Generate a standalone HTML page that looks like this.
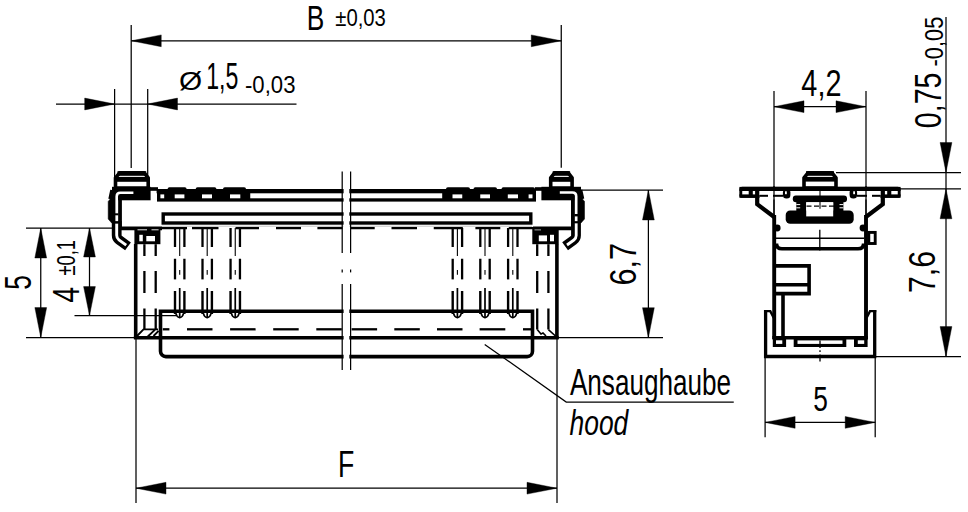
<!DOCTYPE html>
<html><head><meta charset="utf-8"><title>Ansaughaube / hood</title>
<style>
html,body{margin:0;padding:0;background:#fff;overflow:hidden;}
svg{display:block;}
text{font-family:"Liberation Sans",sans-serif;fill:#000;stroke:none;}
</style></head>
<body>
<svg width="968" height="512" viewBox="0 0 968 512" stroke="#000" fill="none">
<rect x="0" y="0" width="968" height="512" fill="#fff" stroke="none"/>
<line x1="131.20" y1="25.00" x2="131.20" y2="168.00" stroke-width="1.25" />
<line x1="561.25" y1="25.00" x2="561.25" y2="167.80" stroke-width="1.25" />
<line x1="131.25" y1="40.80" x2="561.25" y2="40.80" stroke-width="1.25" />
<polygon points="131.25,40.80 161.25,46.70 161.25,34.90" fill="#000" stroke="#000" stroke-width="0.4"/>
<polygon points="561.25,40.80 531.25,34.90 531.25,46.70" fill="#000" stroke="#000" stroke-width="0.4"/>
<line x1="114.60" y1="89.00" x2="114.60" y2="178.00" stroke-width="1.25" />
<line x1="147.70" y1="89.00" x2="147.70" y2="178.00" stroke-width="1.25" />
<line x1="56.00" y1="104.00" x2="296.50" y2="104.00" stroke-width="1.25" />
<polygon points="114.70,104.00 84.70,98.10 84.70,109.90" fill="#000" stroke="#000" stroke-width="0.4"/>
<polygon points="147.50,104.00 177.50,109.90 177.50,98.10" fill="#000" stroke="#000" stroke-width="0.4"/>
<line x1="26.00" y1="228.00" x2="120.00" y2="228.00" stroke-width="1.25" />
<line x1="26.00" y1="337.60" x2="135.00" y2="337.60" stroke-width="1.25" />
<line x1="40.75" y1="228.00" x2="40.75" y2="337.60" stroke-width="1.25" />
<polygon points="40.75,228.00 34.85,258.00 46.65,258.00" fill="#000" stroke="#000" stroke-width="0.4"/>
<polygon points="40.75,337.60 46.65,307.60 34.85,307.60" fill="#000" stroke="#000" stroke-width="0.4"/>
<line x1="74.50" y1="315.60" x2="176.00" y2="315.60" stroke-width="1.25" />
<line x1="89.50" y1="228.00" x2="89.50" y2="315.60" stroke-width="1.25" />
<polygon points="89.50,228.00 83.60,257.00 95.40,257.00" fill="#000" stroke="#000" stroke-width="0.4"/>
<polygon points="89.50,315.60 95.40,286.60 83.60,286.60" fill="#000" stroke="#000" stroke-width="0.4"/>
<line x1="136.00" y1="339.00" x2="136.00" y2="503.00" stroke-width="1.25" />
<line x1="557.00" y1="339.00" x2="557.00" y2="503.00" stroke-width="1.25" />
<line x1="136.00" y1="488.20" x2="557.00" y2="488.20" stroke-width="1.25" />
<polygon points="136.00,488.20 166.00,494.10 166.00,482.30" fill="#000" stroke="#000" stroke-width="0.4"/>
<polygon points="557.00,488.20 527.00,482.30 527.00,494.10" fill="#000" stroke="#000" stroke-width="0.4"/>
<line x1="581.00" y1="190.00" x2="663.00" y2="190.00" stroke-width="1.25" />
<line x1="558.00" y1="337.70" x2="663.00" y2="337.70" stroke-width="1.25" />
<line x1="648.40" y1="190.00" x2="648.40" y2="337.70" stroke-width="1.25" />
<polygon points="648.40,190.00 642.50,220.00 654.30,220.00" fill="#000" stroke="#000" stroke-width="0.4"/>
<polygon points="648.40,337.70 654.30,307.70 642.50,307.70" fill="#000" stroke="#000" stroke-width="0.4"/>
<path d="M484.7,344.4 L566.25,402 H733.75" stroke-width="1.25" fill="none" />
<line x1="774.00" y1="91.00" x2="774.00" y2="217.00" stroke-width="1.25" />
<line x1="866.00" y1="91.00" x2="866.00" y2="217.00" stroke-width="1.25" />
<line x1="774.00" y1="106.70" x2="866.00" y2="106.70" stroke-width="1.25" />
<polygon points="774.00,106.70 804.00,112.60 804.00,100.80" fill="#000" stroke="#000" stroke-width="0.4"/>
<polygon points="866.00,106.70 836.00,100.80 836.00,112.60" fill="#000" stroke="#000" stroke-width="0.4"/>
<line x1="946.00" y1="17.00" x2="946.00" y2="356.60" stroke-width="1.25" />
<line x1="836.00" y1="172.50" x2="961.00" y2="172.50" stroke-width="1.25" />
<line x1="898.00" y1="188.75" x2="961.00" y2="188.75" stroke-width="1.25" />
<line x1="876.00" y1="356.60" x2="961.00" y2="356.60" stroke-width="1.25" />
<polygon points="946.00,172.50 951.90,142.50 940.10,142.50" fill="#000" stroke="#000" stroke-width="0.4"/>
<polygon points="946.00,188.75 940.10,218.75 951.90,218.75" fill="#000" stroke="#000" stroke-width="0.4"/>
<polygon points="946.00,356.60 951.90,326.60 940.10,326.60" fill="#000" stroke="#000" stroke-width="0.4"/>
<line x1="765.10" y1="357.00" x2="765.10" y2="437.30" stroke-width="1.25" />
<line x1="875.20" y1="357.00" x2="875.20" y2="437.30" stroke-width="1.25" />
<line x1="765.10" y1="422.40" x2="875.20" y2="422.40" stroke-width="1.25" />
<polygon points="765.10,422.40 795.10,428.30 795.10,416.50" fill="#000" stroke="#000" stroke-width="0.4"/>
<polygon points="875.20,422.40 845.20,416.50 845.20,428.30" fill="#000" stroke="#000" stroke-width="0.4"/>
<text transform="translate(306.83,29.50) scale(0.7378,1)" font-size="35.64" stroke="#fff" stroke-width="0.25">B</text>
<text transform="translate(335.34,26.00) scale(0.8189,1)" font-size="24.73">±0,03</text>
<text transform="translate(178.88,89.80) scale(1.1636,1)" font-size="25.60" stroke="#000" stroke-width="0.7">Ø</text>
<text transform="translate(206.26,89.00) scale(0.6363,1)" font-size="36.36" stroke="#fff" stroke-width="0.25">1,5</text>
<text transform="translate(245.00,93.00) scale(0.8956,1)" font-size="24.73">-0,03</text>
<text transform="translate(801.35,96.00) scale(0.7932,1)" font-size="36.36" stroke="#fff" stroke-width="0.25">4,2</text>
<text transform="translate(940.50,128.14) rotate(-90) scale(0.7698,1)" font-size="37.09" stroke="#fff" stroke-width="0.25">0,75</text>
<text transform="translate(943.00,66.49) rotate(-90) scale(0.8601,1)" font-size="25.45">-0,05</text>
<text transform="translate(30.50,289.80) rotate(-90) scale(0.6959,1)" font-size="37.82" stroke="#fff" stroke-width="0.25">5</text>
<text transform="translate(78.75,302.65) rotate(-90) scale(0.7666,1)" font-size="37.45" stroke="#fff" stroke-width="0.25">4</text>
<text transform="translate(75.00,275.59) rotate(-90) scale(0.6991,1)" font-size="26.18">±0,1</text>
<text transform="translate(636.00,285.53) rotate(-90) scale(0.8421,1)" font-size="36.36" stroke="#fff" stroke-width="0.25">6,7</text>
<text transform="translate(934.75,293.09) rotate(-90) scale(0.8161,1)" font-size="37.09" stroke="#fff" stroke-width="0.25">7,6</text>
<text transform="translate(338.10,476.70) scale(0.7134,1)" font-size="37.38" stroke="#fff" stroke-width="0.25">F</text>
<text transform="translate(813.15,410.60) scale(0.7325,1)" font-size="35.93" stroke="#fff" stroke-width="0.25">5</text>
<text transform="translate(569.93,394.50) scale(0.7040,1)" font-size="37.09" stroke="#fff" stroke-width="0.25">Ansaughaube</text>
<text transform="translate(569.54,434.50) scale(0.7664,1)" font-size="34.48" font-style="italic" stroke="#fff" stroke-width="0.25">hood</text>
<rect x="156.60" y="189.00" width="379.40" height="4.30" fill="#000" stroke="none" />
<rect x="149.00" y="187.20" width="9.00" height="3.60" fill="#000" stroke="none" />
<rect x="535.00" y="187.20" width="8.00" height="3.60" fill="#000" stroke="none" />
<rect x="157.00" y="198.30" width="379.00" height="3.30" fill="#000" stroke="none" />
<rect x="157.00" y="191.00" width="93.25" height="8.00" fill="#000" stroke="none" />
<rect x="442.20" y="191.00" width="93.80" height="8.00" fill="#000" stroke="none" />
<rect x="160.40" y="194.40" width="3.80" height="3.90" fill="#fff" stroke="none" />
<rect x="174.70" y="194.40" width="9.70" height="3.90" fill="#fff" stroke="none" />
<rect x="202.00" y="194.40" width="10.00" height="3.90" fill="#fff" stroke="none" />
<rect x="230.00" y="194.40" width="10.30" height="3.90" fill="#fff" stroke="none" />
<rect x="452.50" y="194.40" width="9.75" height="3.90" fill="#fff" stroke="none" />
<rect x="480.25" y="194.40" width="9.75" height="3.90" fill="#fff" stroke="none" />
<rect x="507.80" y="194.40" width="10.20" height="3.90" fill="#fff" stroke="none" />
<rect x="528.60" y="194.40" width="3.90" height="3.90" fill="#fff" stroke="none" />
<rect x="167.6" y="187.2" width="19.0" height="4" rx="1.8" fill="#000" stroke="none"/>
<rect x="195.7" y="187.2" width="20.700000000000017" height="4" rx="1.8" fill="#000" stroke="none"/>
<rect x="223" y="187.2" width="23" height="4" rx="1.8" fill="#000" stroke="none"/>
<rect x="446" y="187.2" width="24" height="4" rx="1.8" fill="#000" stroke="none"/>
<rect x="473.5" y="187.2" width="23.5" height="4" rx="1.8" fill="#000" stroke="none"/>
<rect x="501.5" y="187.2" width="33.5" height="4" rx="1.8" fill="#000" stroke="none"/>
<rect x="163.2" y="214" width="367.6" height="9" fill="#fff" stroke-width="3.4"/>
<line x1="162.00" y1="226.20" x2="532.00" y2="226.20" stroke-width="0.7" stroke="#aaa"/>
<line x1="162.00" y1="228.10" x2="187.00" y2="228.10" stroke-width="2.3" />
<line x1="192.00" y1="228.10" x2="218.50" y2="228.10" stroke-width="2.3" />
<line x1="235.50" y1="228.10" x2="259.00" y2="228.10" stroke-width="2.3" />
<line x1="276.00" y1="228.10" x2="301.00" y2="228.10" stroke-width="2.3" />
<line x1="317.40" y1="228.10" x2="342.50" y2="228.10" stroke-width="2.3" />
<line x1="351.00" y1="228.10" x2="374.70" y2="228.10" stroke-width="2.3" />
<line x1="391.50" y1="228.10" x2="417.00" y2="228.10" stroke-width="2.3" />
<line x1="433.75" y1="228.10" x2="462.80" y2="228.10" stroke-width="2.3" />
<line x1="475.40" y1="228.10" x2="500.30" y2="228.10" stroke-width="2.3" />
<line x1="508.75" y1="228.10" x2="533.00" y2="228.10" stroke-width="2.3" />
<line x1="117.60" y1="228.40" x2="162.00" y2="228.40" stroke-width="3.6" />
<line x1="533.00" y1="228.40" x2="574.50" y2="228.40" stroke-width="3.6" />
<line x1="175.00" y1="228.00" x2="175.00" y2="247.00" stroke-width="2.3" />
<line x1="175.00" y1="258.75" x2="175.00" y2="279.40" stroke-width="2.3" />
<line x1="175.00" y1="291.00" x2="175.00" y2="314.00" stroke-width="2.4" />
<line x1="184.40" y1="228.00" x2="184.40" y2="247.00" stroke-width="2.3" />
<line x1="184.40" y1="258.75" x2="184.40" y2="279.40" stroke-width="2.3" />
<line x1="184.40" y1="291.00" x2="184.40" y2="314.00" stroke-width="2.4" />
<line x1="179.70" y1="228.00" x2="179.70" y2="256.00" stroke-width="1.1" />
<line x1="179.70" y1="270.00" x2="179.70" y2="274.70" stroke-width="1.1" />
<line x1="179.70" y1="288.00" x2="179.70" y2="317.00" stroke-width="1.7" />
<path d="M175.79999999999998,313.2 Q176.5,317 179.7,317.8 Q182.89999999999998,317 183.6,313.2" stroke-width="1.6" fill="none" />
<line x1="202.50" y1="228.00" x2="202.50" y2="247.00" stroke-width="2.3" />
<line x1="202.50" y1="258.75" x2="202.50" y2="279.40" stroke-width="2.3" />
<line x1="202.50" y1="291.00" x2="202.50" y2="314.00" stroke-width="2.4" />
<line x1="211.90" y1="228.00" x2="211.90" y2="247.00" stroke-width="2.3" />
<line x1="211.90" y1="258.75" x2="211.90" y2="279.40" stroke-width="2.3" />
<line x1="211.90" y1="291.00" x2="211.90" y2="314.00" stroke-width="2.4" />
<line x1="207.20" y1="228.00" x2="207.20" y2="256.00" stroke-width="1.1" />
<line x1="207.20" y1="270.00" x2="207.20" y2="274.70" stroke-width="1.1" />
<line x1="207.20" y1="288.00" x2="207.20" y2="317.00" stroke-width="1.7" />
<path d="M203.29999999999998,313.2 Q204.0,317 207.2,317.8 Q210.39999999999998,317 211.1,313.2" stroke-width="1.6" fill="none" />
<line x1="230.55" y1="228.00" x2="230.55" y2="247.00" stroke-width="2.3" />
<line x1="230.55" y1="258.75" x2="230.55" y2="279.40" stroke-width="2.3" />
<line x1="230.55" y1="291.00" x2="230.55" y2="314.00" stroke-width="2.4" />
<line x1="239.95" y1="228.00" x2="239.95" y2="247.00" stroke-width="2.3" />
<line x1="239.95" y1="258.75" x2="239.95" y2="279.40" stroke-width="2.3" />
<line x1="239.95" y1="291.00" x2="239.95" y2="314.00" stroke-width="2.4" />
<line x1="235.25" y1="228.00" x2="235.25" y2="256.00" stroke-width="1.1" />
<line x1="235.25" y1="270.00" x2="235.25" y2="274.70" stroke-width="1.1" />
<line x1="235.25" y1="288.00" x2="235.25" y2="317.00" stroke-width="1.7" />
<path d="M231.35,313.2 Q232.05,317 235.25,317.8 Q238.45,317 239.15,313.2" stroke-width="1.6" fill="none" />
<line x1="452.70" y1="228.00" x2="452.70" y2="247.00" stroke-width="2.3" />
<line x1="452.70" y1="258.75" x2="452.70" y2="279.40" stroke-width="2.3" />
<line x1="452.70" y1="291.00" x2="452.70" y2="314.00" stroke-width="2.4" />
<line x1="462.10" y1="228.00" x2="462.10" y2="247.00" stroke-width="2.3" />
<line x1="462.10" y1="258.75" x2="462.10" y2="279.40" stroke-width="2.3" />
<line x1="462.10" y1="291.00" x2="462.10" y2="314.00" stroke-width="2.4" />
<line x1="457.40" y1="228.00" x2="457.40" y2="256.00" stroke-width="1.1" />
<line x1="457.40" y1="270.00" x2="457.40" y2="274.70" stroke-width="1.1" />
<line x1="457.40" y1="288.00" x2="457.40" y2="317.00" stroke-width="1.7" />
<path d="M453.5,313.2 Q454.2,317 457.4,317.8 Q460.59999999999997,317 461.29999999999995,313.2" stroke-width="1.6" fill="none" />
<line x1="480.30" y1="228.00" x2="480.30" y2="247.00" stroke-width="2.3" />
<line x1="480.30" y1="258.75" x2="480.30" y2="279.40" stroke-width="2.3" />
<line x1="480.30" y1="291.00" x2="480.30" y2="314.00" stroke-width="2.4" />
<line x1="489.70" y1="228.00" x2="489.70" y2="247.00" stroke-width="2.3" />
<line x1="489.70" y1="258.75" x2="489.70" y2="279.40" stroke-width="2.3" />
<line x1="489.70" y1="291.00" x2="489.70" y2="314.00" stroke-width="2.4" />
<line x1="485.00" y1="228.00" x2="485.00" y2="256.00" stroke-width="1.1" />
<line x1="485.00" y1="270.00" x2="485.00" y2="274.70" stroke-width="1.1" />
<line x1="485.00" y1="288.00" x2="485.00" y2="317.00" stroke-width="1.7" />
<path d="M481.1,313.2 Q481.8,317 485,317.8 Q488.2,317 488.9,313.2" stroke-width="1.6" fill="none" />
<line x1="508.10" y1="228.00" x2="508.10" y2="247.00" stroke-width="2.3" />
<line x1="508.10" y1="258.75" x2="508.10" y2="279.40" stroke-width="2.3" />
<line x1="508.10" y1="291.00" x2="508.10" y2="314.00" stroke-width="2.4" />
<line x1="517.50" y1="228.00" x2="517.50" y2="247.00" stroke-width="2.3" />
<line x1="517.50" y1="258.75" x2="517.50" y2="279.40" stroke-width="2.3" />
<line x1="517.50" y1="291.00" x2="517.50" y2="314.00" stroke-width="2.4" />
<line x1="512.80" y1="228.00" x2="512.80" y2="256.00" stroke-width="1.1" />
<line x1="512.80" y1="270.00" x2="512.80" y2="274.70" stroke-width="1.1" />
<line x1="512.80" y1="288.00" x2="512.80" y2="317.00" stroke-width="1.7" />
<path d="M508.9,313.2 Q509.59999999999997,317 512.8,317.8 Q516.0,317 516.6999999999999,313.2" stroke-width="1.6" fill="none" />
<rect x="112.00" y="186.80" width="38.60" height="13.50" fill="#000" stroke="none" />
<path d="M108.2,201.5 L111,198 H118 V223 H111.7 L108.2,219 Z" stroke-width="0.5" fill="#000" />
<path d="M110.1,199 L112,190 " stroke-width="3.6" fill="none" />
<path d="M115.5,188 V177.8 L119.6,172.8 H144.2 L148.2,177.8 V188 Z" stroke-width="3.6" fill="#fff" stroke-linejoin="round"/>
<rect x="117.50" y="171.20" width="28.70" height="4.60" fill="#000" stroke="none" />
<rect x="115.00" y="176.90" width="33.60" height="4.90" fill="#000" stroke="none" />
<rect x="118.20" y="199.00" width="3.70" height="30.00" fill="#000" stroke="none" />
<path d="M116.7,221 V235.3 Q116.7,238.2 118.9,239.8 L128,246.4" stroke-width="9.8" fill="none" />
<path d="M116.7,223.6 V235.3 Q116.7,238.2 118.9,239.8 L126.2,245.1" stroke-width="2.9" fill="none" stroke="#fff"/>
<path d="M116.7,221.2 V196.5 Q116.7,192.8 120.4,192.8 H133.4" stroke-width="2.6" fill="none" stroke="#fff"/>
<line x1="115.00" y1="214.30" x2="118.50" y2="214.30" stroke-width="2.0" />
<line x1="115.00" y1="222.40" x2="118.50" y2="222.40" stroke-width="1.8" />
<rect x="541.40" y="186.80" width="39.60" height="13.50" fill="#000" stroke="none" />
<path d="M584.5,201.5 L581.7,198 H575 V223 H581 L584.5,219 Z" stroke-width="0.5" fill="#000" />
<path d="M582.5,199 L580.5,190" stroke-width="3.6" fill="none" />
<path d="M550.7,188 V177.8 L554.6,172.8 H568.2 L572.1,177.8 V188 Z" stroke-width="3.6" fill="#fff" stroke-linejoin="round"/>
<rect x="552.70" y="171.20" width="17.40" height="4.60" fill="#000" stroke="none" />
<rect x="550.00" y="176.90" width="23.00" height="4.90" fill="#000" stroke="none" />
<rect x="571.00" y="199.00" width="3.90" height="30.00" fill="#000" stroke="none" />
<path d="M576,221 V235.6 Q576,238.4 573.7,240 L565.1,246.3" stroke-width="9.8" fill="none" />
<path d="M576.2,223.2 V235.6 Q576.2,238.4 573.9,240 L567,245" stroke-width="2.8" fill="none" stroke="#fff"/>
<path d="M559.8,192.5 H572.4 Q576.2,192.5 576.2,196.3 V221.4" stroke-width="2.6" fill="none" stroke="#fff"/>
<line x1="574.40" y1="215.20" x2="578.00" y2="215.20" stroke-width="2.4" />
<line x1="574.40" y1="222.20" x2="578.00" y2="222.20" stroke-width="1.8" />
<rect x="134.40" y="228.00" width="26.00" height="16.20" fill="#000" stroke="none" />
<rect x="139.30" y="234.80" width="3.50" height="6.50" fill="#fff" stroke="none" />
<rect x="146.30" y="236.00" width="8.70" height="5.30" fill="#fff" stroke="none" />
<line x1="137.50" y1="229.80" x2="147.00" y2="229.80" stroke-width="0.9" stroke="#fff"/>
<line x1="151.50" y1="229.80" x2="158.60" y2="229.80" stroke-width="0.9" stroke="#fff"/>
<rect x="532.30" y="228.00" width="26.40" height="16.20" fill="#000" stroke="none" />
<rect x="538.80" y="235.40" width="8.20" height="5.90" fill="#fff" stroke="none" />
<rect x="550.00" y="234.80" width="4.00" height="6.50" fill="#fff" stroke="none" />
<line x1="534.50" y1="229.90" x2="541.00" y2="229.90" stroke-width="0.9" stroke="#bbb"/>
<line x1="135.70" y1="244.00" x2="135.70" y2="339.00" stroke-width="3.6" />
<line x1="556.90" y1="244.00" x2="556.90" y2="339.00" stroke-width="3.6" />
<line x1="133.90" y1="337.70" x2="558.70" y2="337.70" stroke-width="3.6" />
<line x1="144.40" y1="244.20" x2="144.40" y2="256.00" stroke-width="2.3" />
<line x1="144.40" y1="271.00" x2="144.40" y2="293.00" stroke-width="2.3" />
<line x1="144.40" y1="308.50" x2="144.40" y2="329.50" stroke-width="2.3" />
<line x1="155.70" y1="244.20" x2="155.70" y2="256.00" stroke-width="2.3" />
<line x1="155.70" y1="271.00" x2="155.70" y2="293.00" stroke-width="2.3" />
<line x1="155.70" y1="308.50" x2="155.70" y2="329.50" stroke-width="2.3" />
<line x1="537.20" y1="244.20" x2="537.20" y2="256.00" stroke-width="2.3" />
<line x1="537.20" y1="271.00" x2="537.20" y2="293.00" stroke-width="2.3" />
<line x1="537.20" y1="308.50" x2="537.20" y2="329.50" stroke-width="2.3" />
<line x1="548.40" y1="244.20" x2="548.40" y2="256.00" stroke-width="2.3" />
<line x1="548.40" y1="271.00" x2="548.40" y2="293.00" stroke-width="2.3" />
<line x1="548.40" y1="308.50" x2="548.40" y2="329.50" stroke-width="2.3" />
<path d="M160.5,311.2 H532.5 V351.3 a5.3,5.3 0 0 1 -5.3,5.3 H165.8 a5.3,5.3 0 0 1 -5.3,-5.3 Z" stroke-width="3.6" fill="none" />
<line x1="162.80" y1="329.30" x2="169.40" y2="329.30" stroke-width="2.3" />
<line x1="187.00" y1="329.30" x2="212.50" y2="329.30" stroke-width="2.3" />
<line x1="230.10" y1="329.30" x2="255.60" y2="329.30" stroke-width="2.3" />
<line x1="273.20" y1="329.30" x2="298.70" y2="329.30" stroke-width="2.3" />
<line x1="316.30" y1="329.30" x2="341.80" y2="329.30" stroke-width="2.3" />
<line x1="351.60" y1="329.30" x2="377.10" y2="329.30" stroke-width="2.3" />
<line x1="394.30" y1="329.30" x2="419.80" y2="329.30" stroke-width="2.3" />
<line x1="437.00" y1="329.30" x2="462.50" y2="329.30" stroke-width="2.3" />
<line x1="479.60" y1="329.30" x2="505.30" y2="329.30" stroke-width="2.3" />
<line x1="523.00" y1="329.30" x2="532.00" y2="329.30" stroke-width="2.3" />
<path d="M137,336 L143.5,329.4 H158 M147.8,336.5 L155.4,329.4 M153.5,336 L158.6,330.8" stroke-width="1.9" fill="none" />
<path d="M555.5,336 L548.4,329.6 M546,336 L543,333 L541,334 L537.2,329.6" stroke-width="1.6" fill="none" />
<rect x="343.60" y="185.00" width="5.70" height="45.00" fill="#fff" stroke="none" />
<rect x="343.60" y="308.00" width="5.70" height="52.00" fill="#fff" stroke="none" />
<line x1="342.20" y1="171.50" x2="342.20" y2="253.00" stroke-width="1.25" />
<line x1="342.20" y1="269.50" x2="342.20" y2="272.40" stroke-width="1.25" />
<line x1="342.20" y1="284.00" x2="342.20" y2="370.00" stroke-width="1.25" />
<line x1="350.60" y1="171.50" x2="350.60" y2="253.00" stroke-width="1.25" />
<line x1="350.60" y1="269.50" x2="350.60" y2="272.40" stroke-width="1.25" />
<line x1="350.60" y1="284.00" x2="350.60" y2="370.00" stroke-width="1.25" />
<path d="M804,188 V177.8 L808,172.8 H832 L836,177.8 V188 Z" stroke-width="3.6" fill="#fff" stroke-linejoin="round"/>
<rect x="806.00" y="171.20" width="28.00" height="4.60" fill="#000" stroke="none" />
<rect x="803.00" y="176.90" width="34.00" height="4.70" fill="#000" stroke="none" />
<rect x="740.8" y="188.2" width="158.4" height="8.2" rx="1.5" fill="#fff" stroke-width="2.9"/>
<rect x="739.40" y="186.90" width="161.20" height="4.10" fill="#000" stroke="none" />
<rect x="739.40" y="194.40" width="16.60" height="3.40" fill="#000" stroke="none" />
<rect x="884.00" y="194.40" width="16.60" height="3.40" fill="#000" stroke="none" />
<rect x="759.60" y="191.00" width="120.80" height="8.50" fill="#fff" stroke="none" />
<rect x="748.70" y="191.00" width="4.10" height="4.00" fill="#000" stroke="none" />
<rect x="887.20" y="191.00" width="4.10" height="4.00" fill="#000" stroke="none" />
<line x1="759.60" y1="195.80" x2="768.00" y2="195.80" stroke-width="2.0" />
<line x1="773.00" y1="195.80" x2="783.00" y2="195.80" stroke-width="2.0" />
<line x1="872.00" y1="195.80" x2="880.40" y2="195.80" stroke-width="2.0" />
<line x1="857.00" y1="195.80" x2="867.00" y2="195.80" stroke-width="2.0" />
<line x1="774.00" y1="186.00" x2="774.00" y2="217.00" stroke-width="1.25" />
<line x1="866.00" y1="186.00" x2="866.00" y2="217.00" stroke-width="1.25" />
<rect x="782.9" y="189" width="7.5" height="9.6" rx="3.5" fill="#000" stroke="none"/>
<rect x="785.00" y="191.30" width="1.80" height="2.90" fill="#fff" stroke="none" />
<rect x="849.6" y="189" width="7.5" height="9.6" rx="3.5" fill="#000" stroke="none"/>
<rect x="853.20" y="191.30" width="1.80" height="2.90" fill="#fff" stroke="none" />
<path d="M757.2,190 V204.2 L774.2,217" stroke-width="4.2" fill="none" />
<path d="M882.8,190 V204.2 L865.8,217" stroke-width="4.2" fill="none" />
<line x1="774.20" y1="215.00" x2="774.20" y2="339.00" stroke-width="3.9" />
<line x1="866.00" y1="215.00" x2="866.00" y2="339.00" stroke-width="3.9" />
<circle cx="777.2" cy="228" r="3.4" fill="#000" stroke="none"/>
<circle cx="863" cy="228" r="3.4" fill="#000" stroke="none"/>
<rect x="792.8" y="195.5" width="54.2" height="6.8" rx="3" fill="#000" stroke="none"/>
<rect x="785.7" y="210.4" width="68" height="13.4" rx="4.5" fill="#000" stroke="none"/>
<rect x="796.30" y="200.00" width="9.90" height="16.00" fill="#000" stroke="none" />
<rect x="833.20" y="200.00" width="10.20" height="16.00" fill="#000" stroke="none" />
<rect x="806.20" y="202.30" width="27.00" height="14.10" fill="#fff" stroke="none" />
<line x1="799.00" y1="206.20" x2="841.00" y2="206.20" stroke-width="1.2" stroke-dasharray="5 2.5"/>
<line x1="796.30" y1="204.60" x2="800.20" y2="204.60" stroke-width="1.0" stroke="#fff"/>
<line x1="796.30" y1="207.80" x2="800.20" y2="207.80" stroke-width="1.0" stroke="#fff"/>
<line x1="839.50" y1="204.60" x2="843.40" y2="204.60" stroke-width="1.0" stroke="#fff"/>
<line x1="839.50" y1="207.80" x2="843.40" y2="207.80" stroke-width="1.0" stroke="#fff"/>
<line x1="820.00" y1="191.00" x2="820.00" y2="208.70" stroke-width="1.1" />
<line x1="819.80" y1="229.70" x2="819.80" y2="250.50" stroke-width="1.3" />
<line x1="776.00" y1="238.20" x2="864.00" y2="238.20" stroke-width="1.6" />
<path d="M776.5,243.5 Q776.5,248.8 782,248.8 H858 Q863.6,248.8 863.6,243.5" stroke-width="3.6" fill="none" />
<rect x="868.8" y="232.4" width="6.4" height="11.1" fill="#fff" stroke-width="2.9"/>
<path d="M776,265.9 H809.1 V293.6 H776" stroke-width="3.6" fill="none" />
<line x1="776.00" y1="284.80" x2="808.70" y2="284.80" stroke-width="3.6" />
<line x1="783.00" y1="293.60" x2="783.00" y2="338.00" stroke-width="3.6" />
<line x1="772.40" y1="337.80" x2="868.00" y2="337.80" stroke-width="3.6" />
<rect x="772.80" y="337.80" width="13.30" height="9.20" fill="#000" stroke="none" />
<rect x="776.00" y="340.30" width="6.30" height="3.60" fill="#fff" stroke="none" />
<rect x="793.70" y="337.80" width="52.60" height="9.20" fill="#000" stroke="none" />
<rect x="797.50" y="340.40" width="45.00" height="3.50" fill="#fff" stroke="none" />
<rect x="854.00" y="337.80" width="13.60" height="9.20" fill="#000" stroke="none" />
<rect x="857.80" y="340.30" width="6.40" height="3.60" fill="#fff" stroke="none" />
<path d="M765.6,310 V356.5 H874.7 V310" stroke-width="3.3" fill="none" />
<path d="M764,311.1 H770.3 L773.8,318" stroke-width="2.4" fill="none" />
<path d="M876.3,311.1 H870 L866.5,318" stroke-width="2.4" fill="none" />
<line x1="820.00" y1="340.60" x2="820.00" y2="348.00" stroke-width="1.3" />
<line x1="820.00" y1="350.20" x2="820.00" y2="352.00" stroke-width="1.3" />
<line x1="820.00" y1="354.60" x2="820.00" y2="361.60" stroke-width="1.3" />
</svg>
</body></html>
